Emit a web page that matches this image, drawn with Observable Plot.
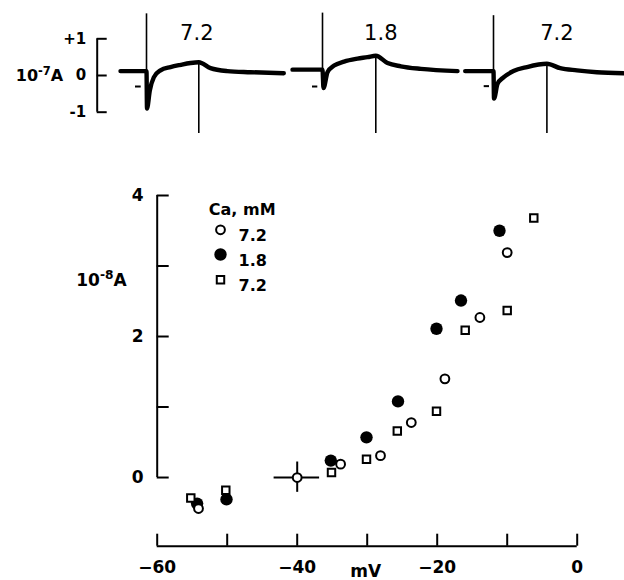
<!DOCTYPE html>
<html><head><meta charset="utf-8">
<script src="https://cdn.jsdelivr.net/npm/d3@7"></script>
<script src="https://cdn.jsdelivr.net/npm/@observablehq/plot@0.6"></script>
<style>
html,body{margin:0;padding:0;background:#fff;overflow:hidden}
#fig{position:relative;width:624px;height:580px;overflow:hidden;background:#fff}
#fig svg{position:absolute;overflow:visible;background:transparent}
</style></head><body><div id="fig"></div>
<script>
// ---------- top panel: current records (time in ms from pulse onset, current in 1e-7 A) ----------
const caLabels = ["7.2", "1.8", "7.2"];
const trace1T = [-260, -30, 0, 5, 33, 73, 140, 240, 340, 440, 523, 640, 807, 1040, 1373];
const trace1I = [0.12, 0.12, 0.12, -0.90, -0.41, -0.05, 0.14, 0.23, 0.29, 0.34, 0.36, 0.20, 0.12, 0.09, 0.06];
const trace2T = [-300, -17, 0, 10, 50, 116, 216, 350, 450, 533, 650, 783, 983, 1350];
const trace2I = [0.16, 0.16, 0.16, -0.34, 0.09, 0.27, 0.38, 0.46, 0.50, 0.54, 0.34, 0.25, 0.18, 0.12];
const trace3T = [-283, -17, 0, 5, 40, 100, 200, 334, 534, 667, 834, 1034, 1300];
const trace3I = [0.12, 0.12, 0.12, -0.63, -0.23, -0.05, 0.12, 0.23, 0.32, 0.20, 0.14, 0.09, 0.06];
const pulseEndT = [523, 533, 534];
const stimMarkTopI = [1.68, 1.70, 1.63];
const troughI = [-0.90, -0.34, -0.63];
const peakI = [0.36, 0.54, 0.32];
const endMarkBottomI = [-1.58, -1.58, -1.58];
const zeroMarkI = [-0.30, -0.30, -0.29];
const zeroMarkT1 = [-110, -100, -93];
const zeroMarkT2 = [-53, -47, -40];
const traceTicks = [-1, 0, 1];

// ---------- bottom panel: I-V relation (mV, 1e-8 A) ----------
const vOpen = [-54.1, -40, -33.8, -28.1, -23.7, -18.9, -13.9, -10.0];
const iOpen = [-0.44, 0, 0.19, 0.31, 0.78, 1.40, 2.27, 3.19];
const vFilled = [-54.3, -50.1, -35.2, -30.1, -25.6, -20.1, -16.6, -11.1];
const iFilled = [-0.37, -0.31, 0.24, 0.57, 1.08, 2.11, 2.51, 3.50];
const vSquare = [-55.2, -50.2, -35.1, -30.1, -25.7, -20.1, -16.0, -10.0, -6.2];
const iSquare = [-0.29, -0.18, 0.07, 0.26, 0.66, 0.94, 2.09, 2.37, 3.68];
const errV = [-40], errI = [0], errVLo = [-43.3], errVHi = [-36.8], errILo = [-0.21], errIHi = [0.22];
const xTicks = [-60, -50, -40, -30, -20, -10, 0];
const xTickLabels = [-60, -40, -20, 0];
const yTicks = [0, 1, 2, 3, 4];
const yTickLabels = [0, 2, 4];
const xDomain = [-60, 0];
const yDomain = [-0.974, 4];
const legendTitle = "Ca, mM";
const legendLabels = ["7.2", "1.8", "7.2"];

const fig = document.getElementById("fig");
const FONT = "DejaVu Sans";

// turn "10^e A" unit labels into real superscripts
function superscript(svg, marker, base, exp, unit) {
  svg.querySelectorAll("text").forEach(t => {
    if (t.textContent === marker) {
      t.textContent = "";
      const ns = "http://www.w3.org/2000/svg";
      const a = document.createElementNS(ns, "tspan"); a.textContent = base;
      const b = document.createElementNS(ns, "tspan"); b.textContent = exp;
      b.setAttribute("dy", "-0.5em"); b.setAttribute("font-size", "72%");
      const c = document.createElementNS(ns, "tspan"); c.textContent = unit;
      c.setAttribute("dy", "0.36em");
      t.append(a, b, c);
    }
  });
}

// scale bar
const bar = Plot.plot({
  width: 115, height: 150, marginLeft: 96.7, marginRight: 18.3, marginTop: 38.3, marginBottom: 38.3,
  x: {domain: [0, 1], axis: null}, y: {domain: [-1, 1], axis: null},
  style: {fontFamily: FONT, fontWeight: "bold", fontSize: "15px", color: "black", background: "transparent"},
  marks: [
    Plot.ruleX([0], {y1: -1, y2: 1, strokeWidth: 2}),
    Plot.axisY(traceTicks, {anchor: "left", tickSize: -10, strokeWidth: 2, tickFormat: () => ""}),
    Plot.axisY(traceTicks, {anchor: "left", tickSize: 0, tickPadding: 11, fontSize: 15,
      tickFormat: d => d > 0 ? "+1" : d < 0 ? "-1" : "0"}),
    Plot.text(["UNIT7"], {x: 0, y: 0, dx: -34, textAnchor: "end", fontSize: 16})
  ]
});
superscript(bar, "UNIT7", "10", "-7", "A");
bar.style.left = "0px"; bar.style.top = "0px";
fig.appendChild(bar);

const traces = [[trace1T, trace1I], [trace2T, trace2I], [trace3T, trace3I]];
const traceLeft = [116, 291.7, 463.3];
const labelDx = [-2, 5, 10];
traces.forEach(([T, I], k) => {
  const pts = T.map((t, j) => ({t, i: I[j]}));
  const p = Plot.plot({
    width: 180, height: 150, marginLeft: 0, marginRight: 0, marginTop: 38.3, marginBottom: 38.3,
    x: {domain: [-300, 1500], axis: null}, y: {domain: [-1, 1], axis: null},
    style: {fontFamily: FONT, fontSize: "21px", color: "black", background: "transparent"},
    marks: [
      Plot.ruleX([0], {y1: stimMarkTopI[k], y2: troughI[k], strokeWidth: 1.6}),
      Plot.ruleX([pulseEndT[k]], {y1: peakI[k], y2: endMarkBottomI[k], strokeWidth: 1.6}),
      Plot.line(pts, {x: "t", y: "i", stroke: "black", strokeWidth: 4.4, curve: "monotone-x"}),
      Plot.ruleY([zeroMarkI[k]], {x1: zeroMarkT1[k], x2: zeroMarkT2[k], strokeWidth: 2}),
      Plot.text([caLabels[k]], {x: pulseEndT[k], frameAnchor: "top", dy: 25 - 38.3, dx: labelDx[k], fontSize: 21})
    ]
  });
  p.style.left = traceLeft[k] + "px"; p.style.top = "0px";
  fig.appendChild(p);
});

// main I-V plot
const open = vOpen.map((v, j) => ({v, i: iOpen[j]}));
const filled = vFilled.map((v, j) => ({v, i: iFilled[j]}));
const square = vSquare.map((v, j) => ({v, i: iSquare[j]}));
const err = errV.map((v, j) => ({v, i: errI[j], vlo: errVLo[j], vhi: errVHi[j], ilo: errILo[j], ihi: errIHi[j]}));
const legendSym = [
  {r: 4.4, fill: "white", stroke: "black", symbol: "circle"},
  {r: 6.2, fill: "black", stroke: "none", symbol: "circle"},
  {r: 4.2, fill: "white", stroke: "black", symbol: "square"}
];
const legendMarks = [
  Plot.text([legendTitle], {frameAnchor: "top-left", dx: 51.6, dy: 7.7, textAnchor: "start", fontSize: 16})
];
legendLabels.forEach((lab, k) => {
  const s = legendSym[k];
  const dy = [34.3, 59, 84.3][k];
  legendMarks.push(Plot.dot([lab], {frameAnchor: "top-left", dx: 63.3, dy, r: s.r, fill: s.fill, stroke: s.stroke, strokeWidth: 2, symbol: s.symbol}));
  legendMarks.push(Plot.text([lab], {frameAnchor: "top-left", dx: 81.3, dy, textAnchor: "start", fontSize: 16}));
});

const main = Plot.plot({
  width: 624, height: 440, marginLeft: 156.7, marginRight: 47.3, marginTop: 55, marginBottom: 34.3,
  x: {domain: xDomain, axis: null}, y: {domain: yDomain, axis: null},
  style: {fontFamily: FONT, fontWeight: "bold", fontSize: "17px", color: "black", background: "transparent"},
  marks: [
    Plot.ruleY([yDomain[0]], {x1: xDomain[0], x2: xDomain[1], strokeWidth: 2}),
    Plot.ruleX([xDomain[0]], {y1: 0, y2: yDomain[1], strokeWidth: 2}),
    Plot.axisX(xTicks, {anchor: "bottom", tickSize: -12, strokeWidth: 2, tickFormat: () => ""}),
    Plot.axisX(xTickLabels, {anchor: "bottom", tickSize: 0, tickPadding: 14.8, fontSize: 17}),
    Plot.axisY(yTicks, {anchor: "left", tickSize: -12, strokeWidth: 2, tickFormat: () => ""}),
    Plot.axisY(yTickLabels, {anchor: "left", tickSize: 0, tickPadding: 13.5, fontSize: 17, tickFormat: d => String(d)}),
    Plot.text(["UNIT8"], {frameAnchor: "top-left", dx: -55.7, dy: 78, textAnchor: "middle", fontSize: 17}),
    Plot.text(["mV"], {x: -30.2, frameAnchor: "bottom", dy: 31, fontSize: 17}),
    Plot.ruleY(err, {y: "i", x1: "vlo", x2: "vhi", strokeWidth: 2}),
    Plot.ruleX(err, {x: "v", y1: "ilo", y2: "ihi", strokeWidth: 2}),
    Plot.dot(filled, {x: "v", y: "i", r: 6.2, fill: "black", stroke: "none"}),
    Plot.dot(open, {x: "v", y: "i", r: 4.4, fill: "white", stroke: "black", strokeWidth: 2}),
    Plot.dot(square, {x: "v", y: "i", r: 4.2, symbol: "square", fill: "white", stroke: "black", strokeWidth: 2}),
    ...legendMarks
  ]
});
superscript(main, "UNIT8", "10", "-8", "A");
main.style.left = "0px"; main.style.top = "140px";
fig.appendChild(main);
</script></body></html>
